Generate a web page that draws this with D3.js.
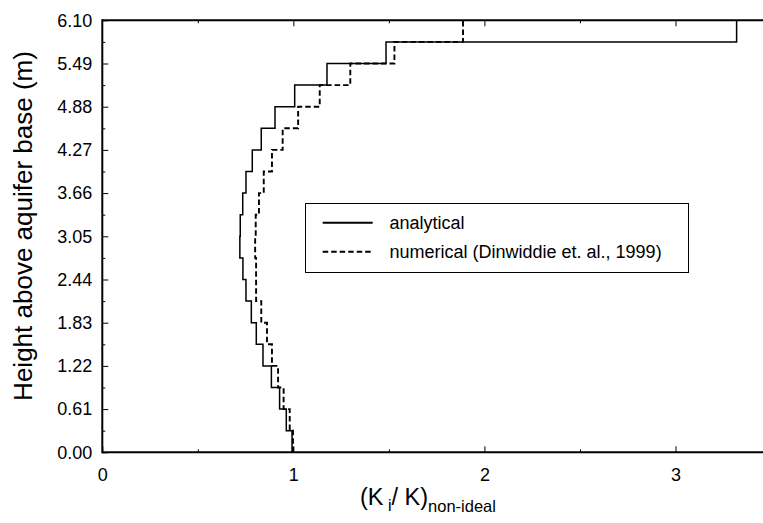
<!DOCTYPE html>
<html>
<head>
<meta charset="utf-8">
<script src="https://cdn.jsdelivr.net/npm/d3@7/dist/d3.min.js"></script>
<style>
  html, body { margin: 0; padding: 0; background: #fff; }
  svg { display: block; font-family: "Liberation Sans", Arial, sans-serif; }
</style>
</head>
<body>
<svg id="chart" width="763" height="523"></svg>
<script>
// ---- data ----
const layerBounds = [0.000, 0.305, 0.610, 0.915, 1.220, 1.525, 1.830, 2.135, 2.440, 2.745,
                     3.050, 3.355, 3.660, 3.965, 4.270, 4.575, 4.880, 5.185, 5.490, 5.795, 6.100];
const analytical = [0.993, 0.963, 0.928, 0.885, 0.841, 0.806, 0.780, 0.752, 0.736, 0.720,
                    0.722, 0.735, 0.752, 0.785, 0.832, 0.904, 1.007, 1.176, 1.485, 3.320];
const numerical  = [0.998, 0.981, 0.949, 0.920, 0.888, 0.862, 0.832, 0.805, 0.805, 0.800,
                    0.803, 0.820, 0.845, 0.888, 0.944, 1.025, 1.138, 1.298, 1.529, 1.888];
const yTicks = [0.00, 0.61, 1.22, 1.83, 2.44, 3.05, 3.66, 4.27, 4.88, 5.49, 6.10];
const yMinorTicks = [0.305, 0.915, 1.525, 2.135, 2.745, 3.355, 3.965, 4.575, 5.185, 5.795];
const xTicks = [0, 1, 2, 3];
const xMinorTicks = [0.5, 1.5, 2.5];
const seriesNames = ["analytical", "numerical (Dinwiddie et. al., 1999)"];

// ---- layout ----
const svg = d3.select("#chart");
const x = d3.scaleLinear().domain([0, 3.5]).range([102.3, 771]);
const y = d3.scaleLinear().domain([0, 6.10]).range([452.3, 20.3]);

// step profile points
function profile(vals) {
  const pts = [];
  vals.forEach((v, i) => {
    pts.push([v, layerBounds[i]]);
    pts.push([v, layerBounds[i + 1]]);
  });
  return pts;
}
const line = d3.line().x(d => x(d[0])).y(d => y(d[1]));

svg.append("path").datum(profile(analytical))
  .attr("d", line).attr("fill", "none").attr("stroke", "#000").attr("stroke-width", 1.5);
svg.append("path").datum(profile(numerical))
  .attr("d", line).attr("fill", "none").attr("stroke", "#000").attr("stroke-width", 1.9)
  .attr("stroke-dasharray", "5.5,3");

// ---- axes ----
const tickFont = 18;
function styleAxis(g) {
  g.select(".domain").remove();
  g.selectAll(".tick line").attr("stroke", "#000").attr("stroke-width", 1);
  g.selectAll(".tick text").attr("fill", "#000").style("font-size", tickFont + "px")
    .style("font-family", "'Liberation Sans', Arial, sans-serif");
}
// bottom
svg.append("g").attr("transform", `translate(0,${y(0)})`)
  .call(d3.axisBottom(x).tickValues(xTicks).tickFormat(d3.format("d")).tickSizeInner(-6).tickSizeOuter(0).tickPadding(16))
  .call(styleAxis);
svg.append("g").attr("transform", `translate(0,${y(0)})`)
  .call(d3.axisBottom(x).tickValues(xMinorTicks).tickFormat("").tickSizeInner(-3).tickSizeOuter(0))
  .call(styleAxis);
// top
svg.append("g").attr("transform", `translate(0,${y(6.10)})`)
  .call(d3.axisTop(x).tickValues(xTicks.filter(d => d > 0)).tickFormat("").tickSizeInner(-6).tickSizeOuter(0))
  .call(styleAxis);
svg.append("g").attr("transform", `translate(0,${y(6.10)})`)
  .call(d3.axisTop(x).tickValues(xMinorTicks).tickFormat("").tickSizeInner(-3).tickSizeOuter(0))
  .call(styleAxis);
// left
svg.append("g").attr("transform", `translate(${x(0)},0)`)
  .call(d3.axisLeft(y).tickValues(yTicks).tickFormat(d3.format(".2f")).tickSizeInner(-6).tickSizeOuter(0).tickPadding(10))
  .call(styleAxis);
svg.append("g").attr("transform", `translate(${x(0)},0)`)
  .call(d3.axisLeft(y).tickValues(yMinorTicks).tickFormat("").tickSizeInner(-3).tickSizeOuter(0))
  .call(styleAxis);

// frame lines
svg.append("line").attr("x1", x(0)).attr("x2", 763).attr("y1", y(0)).attr("y2", y(0))
  .attr("stroke", "#000").attr("stroke-width", 2);
svg.append("line").attr("x1", x(0)).attr("x2", 763).attr("y1", y(6.10)).attr("y2", y(6.10))
  .attr("stroke", "#000").attr("stroke-width", 2);
svg.append("line").attr("x1", x(0)).attr("x2", x(0)).attr("y1", y(0) + 1).attr("y2", y(6.10) - 1)
  .attr("stroke", "#000").attr("stroke-width", 2);

// ---- axis titles ----
const xt = svg.append("text").attr("x", 428).attr("y", 505)
  .attr("text-anchor", "middle").attr("fill", "#000").style("font-size", "23.5px");
xt.append("tspan").text("(K");
xt.append("tspan").text(" i").style("font-size", "16px").attr("dy", 6);
xt.append("tspan").text("/ K)").attr("dy", -6);
xt.append("tspan").text("non-ideal").style("font-size", "16.5px").attr("dy", 7);

svg.append("text").attr("transform", `translate(32,226) rotate(-90)`)
  .attr("text-anchor", "middle").attr("fill", "#000").style("font-size", "26px")
  .text("Height above aquifer base (m)");

// ---- legend ----
const lg = svg.append("g");
lg.append("rect").attr("x", 305.5).attr("y", 203.5).attr("width", 383).attr("height", 69)
  .attr("fill", "#fff").attr("stroke", "#000").attr("stroke-width", 1);
const legendStyles = [{dash: null, w: 2}, {dash: "5.5,3", w: 2}];
seriesNames.forEach((name, i) => {
  const ly = 222.7 + i * 29;
  lg.append("line").attr("x1", 322.7).attr("x2", 372.7).attr("y1", ly).attr("y2", ly)
    .attr("stroke", "#000").attr("stroke-width", legendStyles[i].w)
    .attr("stroke-dasharray", legendStyles[i].dash);
  lg.append("text").attr("x", 389.5).attr("y", ly + 6.5).attr("fill", "#000")
    .style("font-size", "18px").text(name);
});
</script>
</body>
</html>
